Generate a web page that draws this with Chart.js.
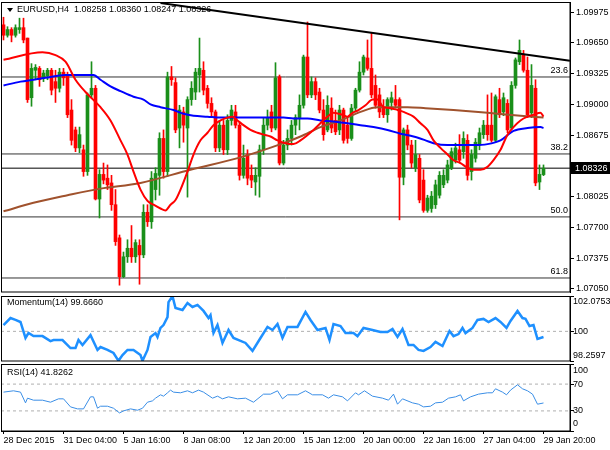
<!DOCTYPE html>
<html>
<head>
<meta charset="utf-8">
<script src="https://cdn.jsdelivr.net/npm/chart.js@4.4.0/dist/chart.umd.min.js"></script>
<style>
  html, body { margin: 0; padding: 0; background: #fff; }
  #wrap { position: relative; width: 610px; height: 450px; overflow: hidden; }
  canvas { position: absolute; left: 0; }
  #mainChart { top: 0; }
  #momChart { top: 294px; }
  #rsiChart { top: 363px; }
</style>
</head>
<body>
<div id="wrap">
  <canvas id="mainChart" width="610" height="294"></canvas>
  <canvas id="momChart" width="610" height="69"></canvas>
  <canvas id="rsiChart" width="610" height="87"></canvas>
</div>
<script>
// EURUSD H4 candles, one per bar (index 0 = 28 Dec 2015 00:00)
const opens = [1.0984,1.0973,1.0979,1.0973,1.0979,1.0981,1.0970,1.0907,1.0936,1.0938,
  1.0928,1.0930,1.0936,1.0924,1.0917,1.0934,1.0931,1.0894,1.0873,1.0854,
  1.0852,1.0829,1.0910,1.0917,1.0800,1.0826,1.0822,1.0817,1.0794,1.0759,
  1.0718,1.0739,1.0748,1.0739,1.0751,1.0741,1.0786,1.0776,1.0810,1.0825,
  1.0864,1.0829,1.0929,1.0923,1.0875,1.0892,1.0875,1.0905,1.0913,1.0931,
  1.0936,1.0917,1.0901,1.0892,1.0854,1.0878,1.0852,1.0883,1.0892,1.0878,
  1.0825,1.0847,1.0825,1.0818,1.0824,1.0852,1.0878,1.0892,1.0875,1.0929,
  1.0838,1.0857,1.0864,1.0878,1.0886,1.0899,1.0950,1.0910,1.0924,1.0913,
  1.0894,1.0873,1.0896,1.0883,1.0873,1.0894,1.0878,1.0864,1.0896,1.0915,
  1.0934,1.0949,1.0938,1.0920,1.0910,1.0896,1.0889,1.0902,1.0905,1.0905,
  1.0823,1.0873,1.0857,1.0833,1.0843,1.0820,1.0788,1.0790,1.0794,1.0804,
  1.0815,1.0820,1.0833,1.0841,1.0852,1.0850,1.0862,1.0829,1.0843,1.0857,
  1.0868,1.0878,1.0878,1.0862,1.0905,1.0892,1.0901,1.0875,1.0920,1.0945,
  1.0952,1.0936,1.0891,1.0917,1.0818,1.08258];
const highs = [1.0992,1.0982,1.0981,1.0984,1.0991,1.0991,1.0970,1.0943,1.0942,1.0940,
  1.0936,1.0938,1.0938,1.0936,1.0938,1.0938,1.0934,1.0905,1.0876,1.0876,
  1.0857,1.0912,1.0945,1.0920,1.0831,1.0838,1.0836,1.0825,1.0810,1.0762,
  1.0744,1.0757,1.0772,1.0757,1.0757,1.0794,1.0794,1.0829,1.0833,1.0870,
  1.0873,1.0934,1.0940,1.0928,1.0899,1.0897,1.0908,1.0924,1.0938,1.0970,
  1.0945,1.0920,1.0907,1.0894,1.0883,1.0883,1.0889,1.0899,1.0899,1.0881,
  1.0857,1.0852,1.0836,1.0833,1.0857,1.0886,1.0894,1.0899,1.0944,1.0931,
  1.0862,1.0873,1.0883,1.0889,1.0910,1.0952,1.0987,1.0929,1.0928,1.0917,
  1.0905,1.0909,1.0907,1.0894,1.0899,1.0896,1.0886,1.0900,1.0917,1.0945,
  1.0952,1.0968,1.0975,1.0931,1.0917,1.0905,1.0907,1.0913,1.0920,1.0907,
  1.0875,1.0878,1.0862,1.0862,1.0847,1.0831,1.0804,1.0808,1.0820,1.0829,
  1.0831,1.0841,1.0854,1.0859,1.0868,1.0871,1.0868,1.0852,1.0864,1.0875,
  1.0883,1.0910,1.0912,1.0910,1.0917,1.0912,1.0905,1.0924,1.0949,1.0968,
  1.0957,1.0950,1.0942,1.0926,1.0836,1.08360];
const lows = [1.0968,1.0971,1.0966,1.0971,1.0975,1.0965,1.0902,1.0898,1.0926,1.0919,
  1.0924,1.0926,1.0910,1.0902,1.0913,1.0920,1.0886,1.0857,1.0850,1.0849,
  1.0824,1.0825,1.0907,1.0799,1.0780,1.0816,1.0810,1.0788,1.0751,1.0709,
  1.0717,1.0733,1.0733,1.0733,1.0710,1.0738,1.0771,1.0769,1.0799,1.0804,
  1.0822,1.0824,1.0920,1.0870,1.0854,1.0860,1.0802,1.0899,1.0905,1.0913,
  1.0910,1.0896,1.0886,1.0850,1.0850,1.0847,1.0847,1.0878,1.0875,1.0820,
  1.0822,1.0815,1.0812,1.0804,1.0802,1.0847,1.0873,1.0871,1.0873,1.0836,
  1.0836,1.0852,1.0857,1.0868,1.0873,1.0896,1.0907,1.0907,1.0905,1.0891,
  1.0862,1.0871,1.0870,1.0868,1.0868,1.0859,1.0859,1.0862,1.0892,1.0913,
  1.0931,1.0936,1.0907,1.0896,1.0886,1.0886,1.0881,1.0894,1.0896,1.0778,
  1.0815,1.0852,1.0833,1.0829,1.0796,1.0786,1.0786,1.0786,1.0790,1.0801,
  1.0812,1.0817,1.0831,1.0838,1.0838,1.0843,1.0820,1.0820,1.0839,1.0852,
  1.0864,1.0862,1.0860,1.0860,1.0886,1.0888,1.0870,1.0873,1.0917,1.0942,
  1.0934,1.0886,1.0886,1.0814,1.0810,1.08247];
const closes = [1.0973,1.0979,1.0973,1.0981,1.0981,1.0968,1.0905,1.0938,1.0939,1.0926,
  1.0933,1.0936,1.0915,1.0917,1.0934,1.0928,1.0889,1.0862,1.0854,1.0868,
  1.0829,1.0910,1.0917,1.0800,1.0826,1.0820,1.0815,1.0794,1.0755,1.0718,
  1.0739,1.0748,1.0739,1.0754,1.0741,1.0786,1.0776,1.0822,1.0827,1.0864,
  1.0829,1.0929,1.0926,1.0873,1.0894,1.0878,1.0905,1.0917,1.0934,1.0938,
  1.0915,1.0901,1.0892,1.0854,1.0878,1.0852,1.0883,1.0894,1.0878,1.0825,
  1.0843,1.0822,1.0820,1.0825,1.0852,1.0878,1.0886,1.0875,1.0928,1.0838,
  1.0857,1.0864,1.0878,1.0886,1.0899,1.0950,1.0910,1.0924,1.0910,1.0894,
  1.0868,1.0899,1.0875,1.0871,1.0894,1.0862,1.0864,1.0896,1.0915,1.0934,
  1.0950,1.0938,1.0910,1.0899,1.0892,1.0889,1.0905,1.0907,1.0899,1.0823,
  1.0873,1.0857,1.0838,1.0847,1.0799,1.0788,1.0801,1.0803,1.0815,1.0825,
  1.0825,1.0836,1.0850,1.0854,1.0841,1.0864,1.0825,1.0847,1.0860,1.0870,
  1.0878,1.0868,1.0862,1.0908,1.0889,1.0907,1.0873,1.0920,1.0947,1.0957,
  1.0936,1.0889,1.0920,1.0817,1.0826,1.08326];

// moving averages, read at bar positions
const redMaBar = [0,9.75,13,15.5,18,20.5,24.25,26.75,29.25,31,32.5,34.25,36,37.5,39.25,40.5,41.75,43,44.25,46,
  47.5,49.25,51,52.5,54.25,56,57.25,58.5,60,61.75,63.5,65,66.75,68.5,70.5,72.5,74.25,77.5,81,82.5,
  84.75,86,87.25,88.75,90.5,92.25,93.5,95,96.75,98.5,100,102.5,104.25,106,107.5,109.25,111,112.5,114.25,116,
  117.5,119.25,121,122.5,124.25,126,127.5,129.25,131,132.5,134.25,135];
const redMaVal = [1.0947,1.0955,1.0952,1.0945,1.0926,1.0913,1.0897,1.0883,1.0862,1.0847,1.0829,1.0810,1.0798,1.0794,1.0790,1.0788,1.0794,1.0799,1.0810,1.0829,
  1.0847,1.0862,1.0870,1.0878,1.0883,1.0886,1.0887,1.0883,1.0878,1.0873,1.0870,1.0868,1.0866,1.0862,1.0859,1.0858,1.0862,1.0873,1.0887,1.0891,
  1.0889,1.0887,1.0891,1.0894,1.0899,1.0905,1.0905,1.0897,1.0896,1.0894,1.0892,1.0887,1.0880,1.0873,1.0862,1.0854,1.0847,1.0841,1.0838,1.0833,
  1.0831,1.0831,1.0834,1.0841,1.0852,1.0868,1.0876,1.0883,1.0887,1.0889,1.0891,1.0887];
const blueMaBar = [0,4.25,7.5,10.5,15.5,22.5,24.25,26.75,29.25,32.5,35,36.75,39.25,42.5,45,47.5,51,54.25,61.75,70,
  72.5,76,79.25,82.5,86,89.25,92.5,96,99.25,102.5,105.5,107.5,111,117.5,121,124.25,127.5,131,134.25,135];
const blueMaVal = [1.0920,1.0924,1.0926,1.0928,1.0931,1.0931,1.0926,1.0919,1.0914,1.0908,1.0905,1.0900,1.0897,1.0894,1.0890,1.0888,1.0887,1.0886,1.0886,1.0886,
  1.0885,1.0885,1.0883,1.0882,1.0880,1.0878,1.0876,1.0873,1.0869,1.0866,1.0862,1.0859,1.0857,1.0857,1.0858,1.0862,1.0872,1.0875,1.0876,1.0875];
const brownMaBar = [0,7.5,16,24.25,34.25,46.75,59.25,70,74.25,79.25,84.25,89.25,93.5,101,105.5,112.5,121,129.25,135];
const brownMaVal = [1.0787,1.0796,1.0804,1.0811,1.0817,1.0831,1.0844,1.0859,1.0866,1.0876,1.0883,1.0892,1.0897,1.0897,1.0896,1.0894,1.0891,1.0888,1.0886];

// drawn objects
const trendBar = [39.25, 141.6];
const trendVal = [1.1007, 1.0946];
const fibLevels = [1.09289, 1.08476, 1.07811, 1.07166];
const fibLabels = ['23.6', '38.2', '50.0', '61.8'];
const lastPrice = 1.08326;
const priceTicks = [1.09975, 1.0965, 1.09325, 1.09, 1.08675, 1.08025, 1.077, 1.07375, 1.0705];
const titleText = 'EURUSD,H4  1.08258 1.08360 1.08247 1.08326';

// Momentum(14)
const momBar = [0,1.75,3,4.25,5.5,6.25,7.5,9.75,11.75,12.5,14.75,16.75,18,18.75,19.75,21.75,23.5,24.25,26,27.5,
  28.75,29.75,31,32.5,34.25,34.75,36,36.75,38,38.5,39.25,40,41,41.25,42.25,43,44.75,46,47.25,48.5,
  50,51.25,51.75,52.5,53.5,54.75,56.25,57.5,60.5,62.25,64.25,66,67.25,68.5,69.75,71,73.5,75.5,76.75,78.5,
  80.5,81.5,82.5,84.25,85.5,87.5,88.5,90,92.25,94.25,96,97.25,98.5,99.75,101.25,102.5,103.75,105,106.75,108,
  109.75,111.5,112.5,113.75,114.75,115.5,117.25,118.5,120,121.25,123,124.25,125.75,126.75,128.5,129.75,130.5,131.5,132.5,133.5,135];
const momVal = [100.37,100.78,100.67,100.55,99.61,99.90,99.72,99.72,99.43,99.49,99.49,99.02,99.02,99.49,99.20,99.78,98.91,99.08,98.91,98.73,
  98.27,98.61,98.91,98.91,98.61,98.27,98.91,99.67,99.90,99.67,100.20,100.37,100.84,101.72,102.07,101.37,101.25,101.66,101.43,101.55,
  101.20,100.78,100.96,99.90,100.37,99.32,100.08,99.61,99.32,98.85,99.61,100.26,100.08,100.43,99.61,100.26,100.26,101.14,100.67,100.08,
  100.20,99.49,100.43,100.31,99.90,99.90,99.72,100.20,100.08,99.96,99.96,100.14,99.67,100.14,99.20,99.20,98.91,98.85,99.08,99.38,
  99.14,100.02,99.72,99.84,100.20,99.90,100.20,100.67,100.73,100.55,100.78,100.55,100.20,100.61,101.20,100.78,100.73,100.31,100.37,99.55,99.666];
const momMin = 98.2597, momMax = 102.0753, momLevel = 100;

// RSI(14)
const rsiBar = [0,2.5,4.25,5.5,6,7.5,9.75,11.75,13.75,15,16.75,18.5,20,21.75,22.5,23.5,24.25,26,27.5,29,
  30,31.75,33.5,34.75,36,37.25,38,39.25,40,41,41.75,42.5,44.25,46,47.25,48.75,50,52.25,53.5,54.75,
  56.25,58.5,60.5,62.5,65,66.75,68.5,69.75,71,73.5,75.5,77.25,79.75,81.25,82.5,84.75,86,88,88.75,90.25,
  92.25,94.75,96.25,97.5,98.5,99.75,102.25,103.75,105,106.75,108,109.75,111.25,113,114.25,115,116.75,118.75,121,122.25,
  123,124.75,125.75,126.75,128.5,129.75,131,132.25,133.5,135];
const rsiVal = [58,60,58,42,49,46,46,43,48,48,36,33,33,51,51,34,37,37,34,27,
  30,33,31,34,43,45,49,54,52,57,61,58,57,60,57,61,58,49,52,48,
  51,48,49,43,55,55,60,48,54,54,60,54,54,49,54,51,45,57,54,60,
  52,49,46,55,40,48,42,40,36,37,42,43,49,51,54,45,51,55,57,57,
  63,58,54,61,69,63,60,55,40,41.8262];
const rsiLevels = [70, 30];

// time axis
const timeTickBars = [0, 15, 30, 45, 60, 75, 90, 105, 120, 135];
const timeTickLabels = ['28 Dec 2015', '31 Dec 04:00', '5 Jan 16:00', '8 Jan 08:00', '12 Jan 20:00',
  '15 Jan 12:00', '20 Jan 00:00', '22 Jan 16:00', '27 Jan 04:00', '29 Jan 20:00'];

// ---- styling / helpers ----
const X_MIN = -0.625, X_MAX = 141.625;
const GREEN = '#1a8f1a', RED = '#ff0000';
const FONT_FAMILY = "'Liberation Sans Narrow', 'Liberation Sans', Arial, sans-serif";
const probe = document.createElement('canvas').getContext('2d');
probe.font = '10px ' + FONT_FAMILY;
const FONT_SIZE = Math.min(11, 10 * 32.5 / probe.measureText('1.09975').width);
const FONT = FONT_SIZE + 'px ' + FONT_FAMILY;

Chart.defaults.font.family = FONT_FAMILY;
Chart.defaults.font.size = FONT_SIZE;
Chart.defaults.color = '#000';

const pts = (xs, ys) => xs.map((x, i) => ({ x: x, y: ys[i] }));
const hLine = (v) => [{ x: X_MIN, y: v }, { x: X_MAX, y: v }];
const candleColors = closes.map((c, i) => (c >= opens[i] ? GREEN : RED));

function xScale(show) {
  const s = {
    type: 'linear', min: X_MIN, max: X_MAX, offset: false, display: show,
    afterBuildTicks: (sc) => { sc.ticks = timeTickBars.map((v) => ({ value: v })); },
    ticks: {
      autoSkip: false, maxRotation: 0, minRotation: 0, align: 'start', padding: 1,
      callback: (v) => timeTickLabels[timeTickBars.indexOf(v)]
    },
    grid: { drawOnChartArea: false, tickLength: 3, color: '#000' },
    border: { color: '#000' }
  };
  if (show) s.afterFit = (sc) => { sc.height = 19; sc.paddingLeft = 0; sc.paddingRight = 0; };
  return s;
}

function yScale(min, max, ticks, showLabels, fmt) {
  return {
    position: 'right', min: min, max: max,
    afterBuildTicks: (s) => { s.ticks = ticks.map((v) => ({ value: v })); },
    afterFit: (s) => { s.width = 40; s.paddingTop = 0; s.paddingBottom = 0; },
    ticks: { display: showLabels, padding: 2, callback: fmt },
    grid: { drawOnChartArea: false, tickLength: 4, color: '#000' },
    border: { color: '#000' }
  };
}

function frame(ctx, a) {
  ctx.strokeStyle = '#000';
  ctx.lineWidth = 1;
  ctx.strokeRect(a.left + 0.5, a.top + 0.5, a.right - a.left - 0.5, a.bottom - a.top - 0.5);
}

const mainOverlay = {
  id: 'mainOverlay',
  afterDraw(chart) {
    const { ctx, chartArea: a, scales: { y } } = chart;
    ctx.save();
    frame(ctx, a);
    ctx.font = FONT;
    ctx.fillStyle = '#000';
    ctx.textBaseline = 'middle';
    // title with the small drop-down triangle
    ctx.beginPath();
    ctx.moveTo(7, 8); ctx.lineTo(13, 8); ctx.lineTo(10, 12); ctx.closePath();
    ctx.fill();
    ctx.textAlign = 'left';
    ctx.fillText(titleText, 17, 10);
    // fibo level captions
    ctx.textAlign = 'right';
    fibLevels.forEach((lv, k) => ctx.fillText(fibLabels[k], a.right - 2, y.getPixelForValue(lv) - 6));
    // current price box on the axis
    const py = y.getPixelForValue(lastPrice);
    ctx.fillRect(a.right + 1, Math.round(py) - 6, 39, 12);
    ctx.fillStyle = '#fff';
    ctx.textAlign = 'left';
    ctx.fillText(lastPrice.toFixed(5), a.right + 5, py);
    ctx.restore();
  }
};

function paneOverlay(id, title, labels) {
  return {
    id: id,
    afterDraw(chart) {
      const { ctx, chartArea: a, scales: { y } } = chart;
      ctx.save();
      frame(ctx, a);
      ctx.font = FONT;
      ctx.fillStyle = '#000';
      ctx.textBaseline = 'middle';
      ctx.textAlign = 'left';
      ctx.fillText(title[0], 7, a.top + title[1]);
      labels.forEach((l) => ctx.fillText(l[1], a.right + 3, y.getPixelForValue(l[0]) + l[2]));
      ctx.restore();
    }
  };
}

const baseOptions = (pad, scales) => ({
  responsive: false, animation: false, events: [],
  layout: { padding: pad },
  plugins: { legend: { display: false }, tooltip: { enabled: false } },
  elements: { point: { radius: 0 } },
  scales: scales
});

// ---- main price pane ----
new Chart(document.getElementById('mainChart'), {
  type: 'bar',
  data: {
    datasets: [
      { type: 'line', data: pts(trendBar, trendVal), borderColor: '#000', borderWidth: 2, order: 0 },
      { type: 'line', data: pts(redMaBar, redMaVal), borderColor: '#ff0000', borderWidth: 2, cubicInterpolationMode: 'monotone', order: 1 },
      { type: 'line', data: pts(blueMaBar, blueMaVal), borderColor: '#0000ff', borderWidth: 2, cubicInterpolationMode: 'monotone', order: 1 },
      { type: 'line', data: pts(brownMaBar, brownMaVal), borderColor: '#a0522d', borderWidth: 2, cubicInterpolationMode: 'monotone', order: 1 },
      { data: opens.map((o, i) => ({ x: i, y: [o, closes[i]] })), backgroundColor: candleColors,
        barThickness: 3, minBarLength: 1, grouped: false, order: 2 },
      { data: lows.map((l, i) => ({ x: i, y: [l, highs[i]] })), backgroundColor: candleColors,
        barThickness: 1, grouped: false, order: 3 },
      ...fibLevels.map((lv) => ({ type: 'line', data: hLine(lv), borderColor: '#333', borderWidth: 1, order: 4 })),
      { type: 'line', data: hLine(lastPrice), borderColor: '#000', borderWidth: 1, order: 4 }
    ]
  },
  options: baseOptions({ left: 1, top: 2, right: 0, bottom: 2 }, {
    x: xScale(false),
    y: yScale(1.07018, 1.10081, priceTicks, true, (v) => v.toFixed(5))
  }),
  plugins: [mainOverlay]
});

// ---- momentum pane ----
new Chart(document.getElementById('momChart'), {
  type: 'line',
  data: {
    datasets: [
      { data: pts(momBar, momVal), borderColor: '#1e90ff', borderWidth: 2.5, order: 0 },
      { data: hLine(momLevel), borderColor: '#b0b0b0', borderWidth: 1, borderDash: [3, 3], order: 1 }
    ]
  },
  options: baseOptions({ left: 1, top: 2, right: 0, bottom: 2 }, {
    x: xScale(false),
    y: yScale(momMin, momMax, [momMin, momLevel, momMax], false)
  }),
  plugins: [paneOverlay('momOverlay', ['Momentum(14) 99.6660', 7],
    [[momMax, momMax.toFixed(4), 6], [momLevel, '100', 0], [momMin, momMin.toFixed(4), -5]])]
});

// ---- RSI pane ----
new Chart(document.getElementById('rsiChart'), {
  type: 'line',
  data: {
    datasets: [
      { data: pts(rsiBar, rsiVal), borderColor: '#3a8ee6', borderWidth: 1, order: 0 },
      ...rsiLevels.map((lv) => ({ data: hLine(lv), borderColor: '#b0b0b0', borderWidth: 1, borderDash: [3, 3], order: 1 }))
    ]
  },
  options: baseOptions({ left: 1, top: 1, right: 0, bottom: 0 }, {
    x: xScale(true),
    y: yScale(0, 100, [0, 30, 70, 100], false)
  }),
  plugins: [paneOverlay('rsiOverlay', ['RSI(14) 41.8262', 9],
    [[100, '100', 7], [70, '70', 0], [30, '30', 0], [0, '0', -7]])]
});
</script>
</body>
</html>
